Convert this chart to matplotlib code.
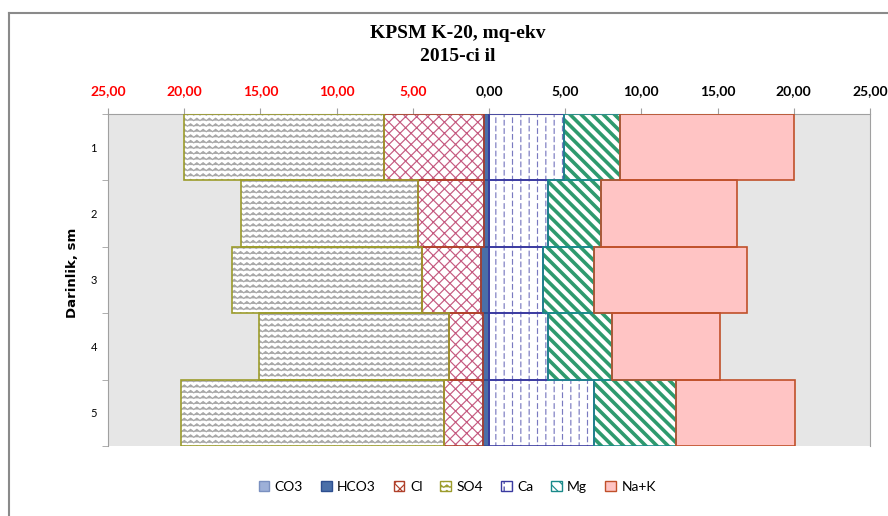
import numpy as np
import matplotlib
matplotlib.use('Agg')
import matplotlib.pyplot as plt
import matplotlib.hatch as mhatch
from matplotlib.path import Path
from matplotlib.patches import Patch
from matplotlib.lines import Line2D

# data (mq-ekv); anions drawn to the left, cations to the right
depth = ['1', '2', '3', '4', '5']
co3 = [0.00, 0.00, 0.00, 0.00, 0.00]
hco3 = [0.33, 0.35, 0.55, 0.41, 0.41]
cl = [6.57, 4.28, 3.85, 2.23, 2.54]
so4 = [13.10, 11.61, 12.48, 12.46, 17.25]
ca = [4.90, 3.87, 3.52, 3.90, 6.86]
mg = [3.70, 3.46, 3.34, 4.18, 5.38]
nak = [11.40, 8.95, 10.04, 7.08, 7.86]
xticks = [-25, -20, -15, -10, -5, 0, 5, 10, 15, 20, 25]


# custom hatches: 'o' -> wavy rows (SO4), 'O' -> dashed verticals (Ca)
class WaveHatch(mhatch.HatchPatternBase):
    def __init__(self, hatch, density):
        self.num_rows = int(hatch.count('o') * density)
        self.num_pts = 33
        self.num_vertices = self.num_rows * self.num_pts

    def set_vertices_and_codes(self, vertices, codes):
        xs = np.linspace(0, 1, self.num_pts)
        zig = np.where(np.arange(self.num_pts) % 2 == 0, -1, 1) * 0.012
        for i in range(self.num_rows):
            s = (i + 0.5) / self.num_rows
            sl = slice(i * self.num_pts, (i + 1) * self.num_pts)
            vertices[sl, 0] = xs
            vertices[sl, 1] = s + zig
            codes[sl] = Path.LINETO
            codes[i * self.num_pts] = Path.MOVETO


class DashHatch(mhatch.HatchPatternBase):
    def __init__(self, hatch, density):
        self.num_cols = int(hatch.count('O') * density)
        self.num_dash = 12
        self.num_vertices = self.num_cols * self.num_dash * 2

    def set_vertices_and_codes(self, vertices, codes):
        n = 0
        step = 1.0 / self.num_dash
        for j in range(self.num_cols):
            c = (j + 0.5) / self.num_cols
            off = 0.3 * step if j % 2 else 0.0
            for k in range(self.num_dash):
                y0 = k * step + off
                vertices[n] = (c, y0)
                vertices[n + 1] = (c, y0 + 0.55 * step)
                codes[n] = Path.MOVETO
                codes[n + 1] = Path.LINETO
                n += 2


types = list(mhatch._hatch_types)
types[types.index(mhatch.SmallCircles)] = WaveHatch
types[types.index(mhatch.LargeCircles)] = DashHatch
mhatch._hatch_types[:] = types

plt.rcParams['font.family'] = ['Lato', 'DejaVu Sans']
plt.rcParams['hatch.linewidth'] = 0.85

fig = plt.figure(figsize=(8.88, 5.16), dpi=100)
ax = fig.add_axes([0.1216, 0.1357, 0.8581, 0.6434])
ax.set_facecolor('#e6e6e6')

y = np.arange(len(depth))
h = 1.0

# (name, values, side, face, hatch, hatch colour, edge colour)
series = [
    ('CO3', co3, -1, '#9db0d8', None, '#7a90c0', '#7a90c0'),
    ('HCO3', hco3, -1, '#4a6fa8', None, '#2d4f90', '#2d4f90'),
    ('Cl', cl, -1, 'white', 'xxx', '#c55a80', '#b0402a'),
    ('SO4', so4, -1, 'white', 'ooo', '#a8a8a8', '#9c9c2c'),
    ('Ca', ca, 1, 'white', 'OO', '#7a7ac0', '#3a3aa0'),
    ('Mg', mg, 1, 'white', '\\\\\\', '#2e9a6e', '#1a8a8a'),
    ('Na+K', nak, 1, '#ffc4c4', None, '#ffc4c4', '#c0502a'),
]

left_neg = np.zeros(len(depth))
left_pos = np.zeros(len(depth))
handles = []
for name, vals, sign, face, hatch, hcol, ecol in series:
    v = np.array(vals) * sign
    base = left_neg if sign < 0 else left_pos
    bars = ax.barh(y, v, left=base, height=h, color=face, edgecolor=hcol,
                   linewidth=0, hatch=hatch, zorder=2)
    if name == 'Mg':
        for b in bars:
            if hasattr(b, 'set_hatch_linewidth'):
                b.set_hatch_linewidth(2.6)
    ax.barh(y, v, left=base, height=h, fill=False, edgecolor=ecol,
            linewidth=1.2, zorder=3)
    if sign < 0:
        left_neg = left_neg + v
    else:
        left_pos = left_pos + v
    handles.append(Patch(facecolor=face, edgecolor=ecol, hatch=hatch,
                         linewidth=1.0, label=name))

ax.set_xlim(-25, 25)
ax.set_ylim(len(depth) - 0.5, -0.5)
ax.xaxis.tick_top()
ax.set_xticks(xticks)
ax.set_xticklabels([f'{abs(t):.2f}'.replace('.', ',') for t in xticks],
                   fontsize=10, fontweight='bold')
for t, lab in zip(xticks, ax.get_xticklabels()):
    lab.set_color('red' if t < 0 else 'black')
ax.tick_params(axis='x', direction='out', length=4, color='#a0a0a0', pad=8)

ax.set_yticks(y)
ax.set_yticklabels(depth, fontsize=8)
ax.set_yticks(np.arange(len(depth) + 1) - 0.5, minor=True)
ax.tick_params(axis='y', which='major', length=0, pad=8)
ax.tick_params(axis='y', which='minor', length=4, color='#a0a0a0')
ax.set_ylabel('Darinlik, sm', fontsize=9.5, fontweight='bold', labelpad=6,
              family='DejaVu Sans')
ax.yaxis.set_label_coords(-0.038, 0.52)

for s in ['top', 'left', 'right']:
    ax.spines[s].set_color('#a0a0a0')
ax.spines['bottom'].set_visible(False)

fig.text(0.515, 0.936, 'KPSM K-20, mq-ekv', ha='center', va='center',
         fontsize=14, fontweight='bold', family='Liberation Serif')
fig.text(0.515, 0.891, '2015-ci il', ha='center', va='center',
         fontsize=14, fontweight='bold', family='Liberation Serif')

fig.legend(handles=handles, loc='center', bbox_to_anchor=(0.515, 0.056),
           ncol=7, frameon=False, fontsize=10, handlelength=0.75,
           handleheight=0.75, handletextpad=0.4, columnspacing=1.3)

# outer chart border (top and left edges visible)
fig.add_artist(Line2D([0.0101, 1.0], [0.9748, 0.9748], color='#8a8a8a', lw=1.5))
fig.add_artist(Line2D([0.0101, 0.0101], [0.0, 0.9748], color='#8a8a8a', lw=1.5))

fig.savefig('out.png', dpi=100)
